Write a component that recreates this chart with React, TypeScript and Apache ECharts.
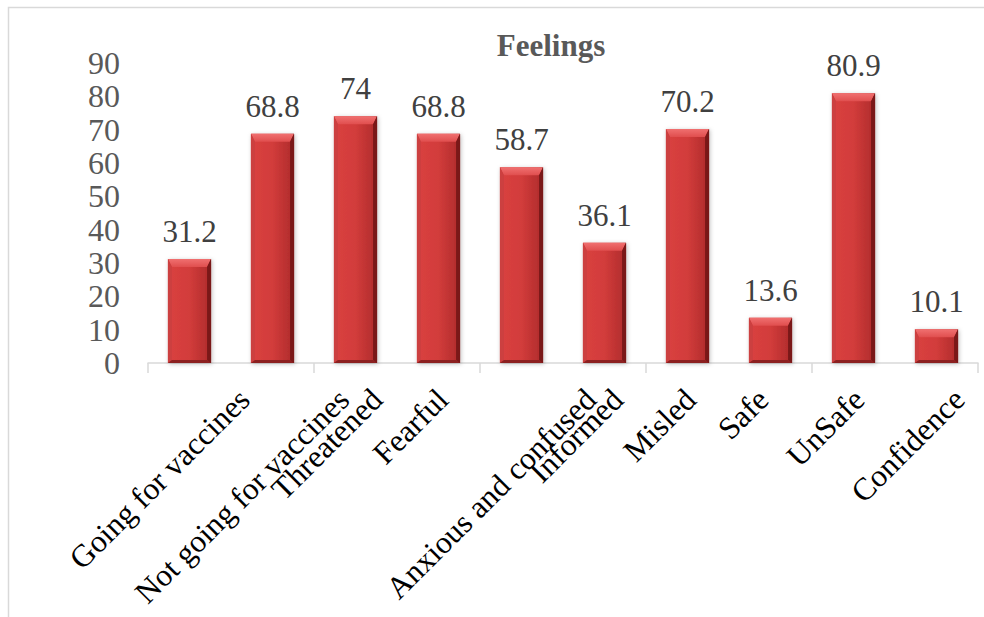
import React, { useEffect, useRef } from "react";
import * as echarts from "echarts";

const categories = [
  "Going for vaccines",
  "Not going for vaccines",
  "Threatened",
  "Fearful",
  "Anxious and confused",
  "Informed",
  "Misled",
  "Safe",
  "UnSafe",
  "Confidence",
];
const values = [31.2, 68.8, 74, 68.8, 58.7, 36.1, 70.2, 13.6, 80.9, 10.1];
const yTicks = { min: 0, max: 90, interval: 10 };
const titleText = "Feelings";

const FONT = "Liberation Serif";

export default function App() {
  const ref = useRef<HTMLDivElement>(null);
  useEffect(() => {
    if (!ref.current) return;
    const chart = echarts.init(ref.current, null, { renderer: "svg" });
    const option: any = {
      animation: false,
      backgroundColor: "#ffffff",
      title: {
        text: titleText,
        left: 546,
        textAlign: "center",
        top: 25,
        textStyle: { fontFamily: FONT, fontSize: 31, fontWeight: "bold", color: "#595959" },
      },
      grid: { left: 148, right: 6, top: 63, bottom: 254, containLabel: false },
      xAxis: {
        type: "category",
        data: categories,
        axisLine: { lineStyle: { color: "#d9d9d9", width: 1.5 } },
        axisTick: { show: true, length: 10, lineStyle: { color: "#d9d9d9", width: 1.5 } },
        axisLabel: { show: false },
      },
      yAxis: {
        type: "value",
        min: yTicks.min,
        max: yTicks.max,
        interval: yTicks.interval,
        axisLine: { show: false },
        axisTick: { show: false },
        splitLine: { show: false },
        axisLabel: { margin: 28, color: "#595959", fontSize: 32, fontFamily: FONT },
      },
      series: [
        {
          type: "bar",
          data: values,
          barWidth: "52%",
          itemStyle: {
            color: new echarts.graphic.LinearGradient(0, 0, 1, 0, [
              { offset: 0, color: "#c43535" },
              { offset: 0.1, color: "#d8403f" },
              { offset: 0.5, color: "#d23c3b" },
              { offset: 0.9, color: "#b52e2e" },
              { offset: 1, color: "#6a1212" },
            ]),
            shadowBlur: 4,
            shadowColor: "rgba(0,0,0,0.25)",
            shadowOffsetX: 1,
            shadowOffsetY: 1,
          },
          label: {
            show: true,
            position: "top",
            distance: 12,
            color: "#404040",
            fontSize: 31,
            fontFamily: FONT,
          },
        },
        {
          type: "custom",
          silent: true,
          z: 3,
          data: values.map((v, i) => [i, v]),
          renderItem: (params: any, api: any) => {
            const idx = api.value(0);
            const v = api.value(1);
            const top = api.coord([idx, v]);
            const base = api.coord([idx, 0]);
            const w = api.size([1, 0])[0] * 0.52;
            const x0 = top[0] - w / 2;
            const x1 = top[0] + w / 2;
            const y0 = top[1];
            const y1 = base[1];
            const h = y1 - y0;
            const bt = Math.min(8, h / 2);
            const bs = 4;
            const bb = Math.min(3, h / 4);
            return {
              type: "group",
              children: [
                {
                  type: "polygon",
                  shape: { points: [[x0, y0], [x1, y0], [x1 - bs, y0 + bt], [x0 + bs, y0 + bt]] },
                  style: {
                    fill: new echarts.graphic.LinearGradient(0, 0, 0, 1, [
                      { offset: 0, color: "#f07070" },
                      { offset: 1, color: "#e04e4e" },
                    ]),
                  },
                },
                {
                  type: "polygon",
                  shape: { points: [[x0, y0], [x0 + bs, y0 + bt], [x0 + bs, y1 - bb], [x0, y1]] },
                  style: { fill: "#cc4040" },
                },
                {
                  type: "polygon",
                  shape: { points: [[x1, y0], [x1 - bs, y0 + bt], [x1 - bs, y1 - bb], [x1, y1]] },
                  style: { fill: "#7a1818" },
                },
                {
                  type: "polygon",
                  shape: { points: [[x0, y1], [x0 + bs, y1 - bb], [x1 - bs, y1 - bb], [x1, y1]] },
                  style: { fill: "#8c2020" },
                },
              ],
            };
          },
        },
      ],
    };
    chart.setOption(option);

    const LABEL_SIZE = 31.5;
    const canvas = document.createElement("canvas");
    const ctx = canvas.getContext("2d")!;
    ctx.font = LABEL_SIZE + 'px "Liberation Serif"';
    const axisY = chart.convertToPixel({ yAxisIndex: 0 }, 0) as number;
    const labels = categories.map((c, i) => {
      const cx = chart.convertToPixel({ xAxisIndex: 0 }, i) as number;
      const W = ctx.measureText(c).width;
      return {
        type: "text",
        x: cx + 0.34 * W - 38,
        y: axisY + 20,
        rotation: Math.PI / 4,
        silent: true,
        style: {
          text: c,
          fontFamily: FONT,
          fontSize: LABEL_SIZE,
          fill: "#000000",
          align: "right",
          verticalAlign: "top",
        },
      };
    });
    chart.setOption({
      graphic: [
        {
          type: "rect",
          silent: true,
          z: -10,
          shape: { x: 8.5, y: 7.5, width: 1200, height: 1000 },
          style: { fill: "none", stroke: "#d9d9d9", lineWidth: 1.5 },
        },
        ...labels,
      ],
    });
    return () => chart.dispose();
  }, []);
  return (
    <div
      ref={ref}
      style={{ position: "fixed", left: 0, top: 0, width: 984, height: 617 }}
    />
  );
}
